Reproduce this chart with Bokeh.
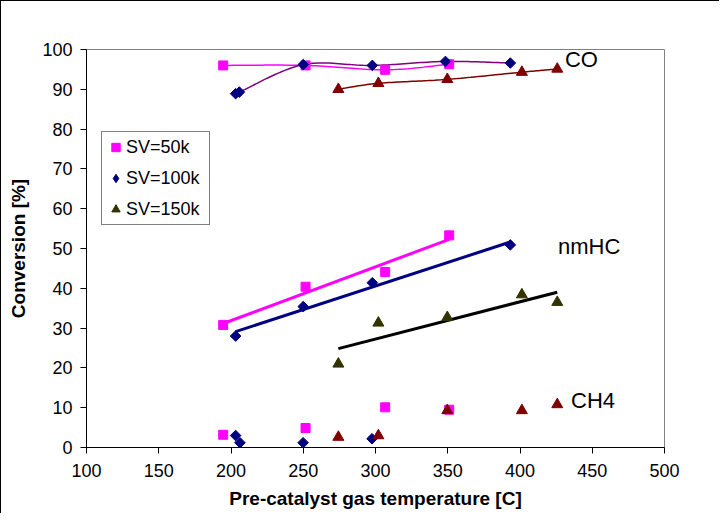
import numpy as np
from bokeh.plotting import figure
from bokeh.models import Range1d, FixedTicker, Legend, LegendItem, Label
from bokeh.embed import file_html
from bokeh.resources import INLINE

FONT = "Liberation Sans"

# ---- data ----
# SV=50k
t50 = [194.6, 251.6, 306.7, 351.0]
co50 = [96.0, 96.0, 94.9, 96.3]
hc50 = [30.8, 40.4, 44.1, 53.3]
ch4_50 = [3.2, 4.9, 10.1, 9.5]

# SV=100k
t100_co = [203.2, 205.8, 250.0, 297.8, 348.4, 393.3]
co100 = [88.9, 89.3, 96.2, 96.0, 97.0, 96.6]
t100_hc = [203.2, 250.0, 297.8, 393.3]
hc100 = [28.0, 35.4, 41.4, 50.9]
t100_ch4 = [203.2, 206.2, 249.9, 297.6]
ch4_100 = [3.0, 1.2, 1.2, 2.2]

# SV=150k
t150 = [274.3, 302.0, 349.7, 401.3, 425.8]
co150 = [90.0, 91.5, 92.5, 94.3, 95.1]
hc150 = [21.0, 31.3, 32.7, 38.4, 36.5]
ch4_150 = [2.6, 3.0, 9.3, 9.3, 10.8]

x_ticks = [100, 150, 200, 250, 300, 350, 400, 450, 500]
y_ticks = [0, 10, 20, 30, 40, 50, 60, 70, 80, 90, 100]
series_names = ["SV=50k", "SV=100k", "SV=150k"]
group_names = ["CO", "nmHC", "CH4"]

MAGENTA = "#FF00FF"
NAVY = "#000080"
DARKRED = "#800000"
OLIVE = "#333300"
PURPLE = "#800080"


def smooth(xs, ys, n=24):
    """Excel-like smoothed line (Catmull-Rom as cubic Bezier)."""
    x = np.asarray(xs, float)
    y = np.asarray(ys, float)
    px = np.concatenate([[x[0]], x, [x[-1]]])
    py = np.concatenate([[y[0]], y, [y[-1]]])
    t = np.linspace(0, 1, n)
    ox, oy = [], []
    for i in range(len(x) - 1):
        p0 = np.array([px[i], py[i]])
        p1 = np.array([px[i + 1], py[i + 1]])
        p2 = np.array([px[i + 2], py[i + 2]])
        p3 = np.array([px[i + 3], py[i + 3]])
        c1 = p1 + (p2 - p0) / 6.0
        c2 = p2 - (p3 - p1) / 6.0
        b = ((1 - t) ** 3)[:, None] * p1 + (3 * (1 - t) ** 2 * t)[:, None] * c1 \
            + (3 * (1 - t) * t ** 2)[:, None] * c2 + (t ** 3)[:, None] * p2
        ox.extend(b[:, 0].tolist())
        oy.extend(b[:, 1].tolist())
    return ox, oy


def trend(xs, ys):
    k, c = np.polyfit(xs, ys, 1)
    xe = [min(xs), max(xs)]
    return xe, [k * v + c for v in xe]


p = figure(width=719, height=513, output_backend="svg", toolbar_location=None,
           x_range=Range1d(100, 500), y_range=Range1d(0, 100),
           min_border_left=85, min_border_right=56, min_border_top=48,
           min_border_bottom=67)
p.styles = {"border-left": "1px solid #000000", "border-top": "1px solid #000000"}

p.xgrid.visible = False
p.ygrid.visible = False
p.outline_line_color = "#808080"
p.outline_line_width = 1
p.background_fill_color = "white"
p.border_fill_color = "white"

for ax in (p.xaxis[0], p.yaxis[0]):
    ax.axis_line_color = "black"
    ax.major_tick_line_color = "black"
    ax.minor_tick_line_color = None
    ax.major_tick_in = 0
    ax.major_tick_out = 6
    ax.major_label_text_font = FONT
    ax.major_label_text_font_size = "18px"
    ax.major_label_text_color = "black"
    ax.axis_label_text_font = FONT
    ax.axis_label_text_font_size = "19px"
    ax.axis_label_text_font_style = "bold"
    ax.axis_label_text_color = "black"

p.xaxis[0].ticker = FixedTicker(ticks=x_ticks)
p.yaxis[0].ticker = FixedTicker(ticks=y_ticks)
p.xaxis[0].axis_label = "Pre-catalyst gas temperature [C]"
p.yaxis[0].axis_label = "Conversion [%]"
p.xaxis[0].major_label_standoff = 10
p.yaxis[0].major_label_standoff = 8
p.xaxis[0].axis_label_standoff = 8
p.yaxis[0].axis_label_standoff = 10

# CO smoothed lines
sx, sy = smooth(t50, co50)
p.line(sx, sy, line_color=MAGENTA, line_width=1.5)
sx, sy = smooth(t100_co, co100)
p.line(sx, sy, line_color=PURPLE, line_width=1.5)
sx, sy = smooth(t150, co150)
p.line(sx, sy, line_color=DARKRED, line_width=1.5)

# nmHC linear trend lines
lx, ly = trend(t50, hc50)
p.line(lx, ly, line_color=MAGENTA, line_width=3)
lx, ly = trend(t100_hc, hc100)
p.line(lx, ly, line_color=NAVY, line_width=3)
lx, ly = trend(t150, hc150)
p.line(lx, ly, line_color="black", line_width=3)

# markers
sq_kw = dict(marker="square", size=9, fill_color=MAGENTA, line_color=MAGENTA)
dm_kw = dict(marker="square", size=7.5, angle=np.pi / 4, fill_color=NAVY, line_color=NAVY)
p.scatter(t50, co50, **sq_kw)
r50 = p.scatter(t50, hc50, **sq_kw)
p.scatter(t50, ch4_50, **sq_kw)

# diamond glyph (used for the legend entry), covered by the rotated squares
r100 = p.scatter(t100_hc, hc100, marker="diamond", size=8, fill_color=NAVY, line_color=NAVY)
p.scatter(t100_co, co100, **dm_kw)
p.scatter(t100_hc, hc100, **dm_kw)
p.scatter(t100_ch4, ch4_100, **dm_kw)

p.scatter(t150, co150, marker="triangle", size=11, fill_color=DARKRED, line_color=DARKRED)
r150 = p.scatter(t150, hc150, marker="triangle", size=11, fill_color=OLIVE, line_color=OLIVE)
p.scatter(t150, ch4_150, marker="triangle", size=11, fill_color=DARKRED, line_color=DARKRED)

# group labels
for txt, lx0, ly0 in zip(group_names, [431.1, 426.3, 435.3], [97.55, 50.6, 11.87]):
    p.add_layout(Label(x=lx0, y=ly0, text=txt, text_font=FONT, text_font_size="22px",
                       text_color="black", text_baseline="alphabetic", text_align="left"))

legend = Legend(items=[LegendItem(label=series_names[0], renderers=[r50]),
                       LegendItem(label=series_names[1], renderers=[r100]),
                       LegendItem(label=series_names[2], renderers=[r150])],
                location=(15, 222))
legend.label_text_font = FONT
legend.label_text_font_size = "18px"
legend.label_text_color = "black"
legend.border_line_color = "black"
legend.border_line_width = 1
legend.background_fill_color = "white"
legend.background_fill_alpha = 1.0
legend.label_height = 24
legend.glyph_height = 24
legend.glyph_width = 21
legend.label_width = 80
legend.spacing = 7
legend.padding = 3
legend.margin = 0
legend.label_standoff = 0
p.add_layout(legend, "center")

open("out.html", "w").write(file_html(p, INLINE))
